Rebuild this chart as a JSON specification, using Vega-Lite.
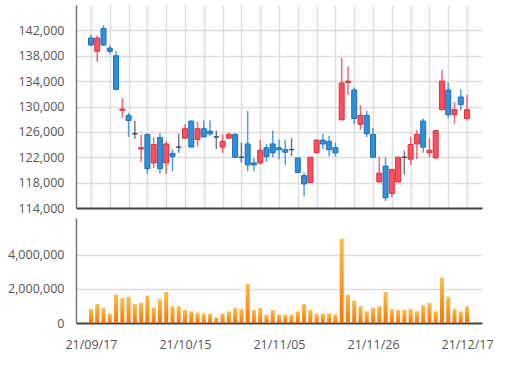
{
  "$schema": "https://vega.github.io/schema/vega-lite/v6.json",
  "background": "white",
  "padding": 5,
  "spacing": 10,
  "bounds": "flush",
  "config": {
    "view": {"stroke": null},
    "font": "Open Sans",
    "axis": {
      "labelFont": "Open Sans",
      "labelFontSize": 12.5,
      "labelColor": "#555555",
      "gridColor": "#dedede",
      "gridWidth": 1.5,
      "domainColor": "#777777",
      "domainWidth": 1.5,
      "ticks": false,
      "title": null,
      "labelOverlap": false
    }
  },
  "datasets": {
    "d": [
      {"date": "21/09/17", "open": 140800, "high": 141300, "low": 139500, "close": 139700, "volume": 820000},
      {"date": "21/09/23", "open": 138700, "high": 141200, "low": 137000, "close": 140800, "volume": 1110000},
      {"date": "21/09/24", "open": 142300, "high": 142800, "low": 139500, "close": 139700, "volume": 880000},
      {"date": "21/09/27", "open": 139200, "high": 139700, "low": 138300, "close": 138700, "volume": 550000},
      {"date": "21/09/28", "open": 138000, "high": 138700, "low": 132700, "close": 132700, "volume": 1660000},
      {"date": "21/09/29", "open": 129400, "high": 131300, "low": 128200, "close": 129600, "volume": 1460000},
      {"date": "21/09/30", "open": 128600, "high": 129000, "low": 125200, "close": 127800, "volume": 1540000},
      {"date": "21/10/01", "open": 125700, "high": 127700, "low": 124900, "close": 125700, "volume": 1110000},
      {"date": "21/10/05", "open": 123300, "high": 125600, "low": 121300, "close": 123500, "volume": 1190000},
      {"date": "21/10/06", "open": 125600, "high": 125800, "low": 119400, "close": 120200, "volume": 1600000},
      {"date": "21/10/07", "open": 121100, "high": 125100, "low": 120300, "close": 124000, "volume": 900000},
      {"date": "21/10/08", "open": 125100, "high": 125800, "low": 119400, "close": 120200, "volume": 1390000},
      {"date": "21/10/12", "open": 121100, "high": 124500, "low": 119400, "close": 124100, "volume": 1820000},
      {"date": "21/10/13", "open": 122600, "high": 123200, "low": 119800, "close": 122100, "volume": 980000},
      {"date": "21/10/14", "open": 123600, "high": 125700, "low": 122700, "close": 123600, "volume": 980000},
      {"date": "21/10/15", "open": 125000, "high": 127200, "low": 125000, "close": 126500, "volume": 760000},
      {"date": "21/10/18", "open": 127700, "high": 127800, "low": 123600, "close": 123600, "volume": 680000},
      {"date": "21/10/19", "open": 124800, "high": 127600, "low": 123700, "close": 126500, "volume": 610000},
      {"date": "21/10/20", "open": 126500, "high": 127800, "low": 125200, "close": 125200, "volume": 550000},
      {"date": "21/10/21", "open": 126100, "high": 127800, "low": 125400, "close": 125700, "volume": 550000},
      {"date": "21/10/22", "open": 125200, "high": 126200, "low": 123300, "close": 125200, "volume": 330000},
      {"date": "21/10/25", "open": 123600, "high": 125600, "low": 122700, "close": 124500, "volume": 550000},
      {"date": "21/10/26", "open": 125000, "high": 125900, "low": 124900, "close": 125600, "volume": 680000},
      {"date": "21/10/27", "open": 125600, "high": 125800, "low": 121900, "close": 122000, "volume": 880000},
      {"date": "21/10/28", "open": 122000, "high": 124300, "low": 121200, "close": 122000, "volume": 820000},
      {"date": "21/10/29", "open": 124100, "high": 129300, "low": 119800, "close": 120800, "volume": 2300000},
      {"date": "21/11/01", "open": 121100, "high": 121900, "low": 119800, "close": 120800, "volume": 760000},
      {"date": "21/11/02", "open": 121100, "high": 124700, "low": 120800, "close": 123100, "volume": 880000},
      {"date": "21/11/03", "open": 123500, "high": 124100, "low": 121300, "close": 122100, "volume": 490000},
      {"date": "21/11/04", "open": 124100, "high": 126200, "low": 122000, "close": 122700, "volume": 760000},
      {"date": "21/11/05", "open": 123500, "high": 124800, "low": 121700, "close": 123200, "volume": 490000},
      {"date": "21/11/08", "open": 123200, "high": 124700, "low": 120800, "close": 122800, "volume": 490000},
      {"date": "21/11/09", "open": 123200, "high": 125000, "low": 122200, "close": 123200, "volume": 490000},
      {"date": "21/11/10", "open": 121900, "high": 121900, "low": 119600, "close": 119600, "volume": 680000},
      {"date": "21/11/11", "open": 119100, "high": 119600, "low": 115800, "close": 117800, "volume": 1110000},
      {"date": "21/11/12", "open": 118000, "high": 122000, "low": 118000, "close": 122000, "volume": 760000},
      {"date": "21/11/15", "open": 122700, "high": 124800, "low": 122700, "close": 124700, "volume": 550000},
      {"date": "21/11/16", "open": 124700, "high": 125700, "low": 123300, "close": 124100, "volume": 550000},
      {"date": "21/11/17", "open": 124500, "high": 125400, "low": 122100, "close": 123200, "volume": 550000},
      {"date": "21/11/18", "open": 123500, "high": 124300, "low": 122100, "close": 122700, "volume": 490000},
      {"date": "21/11/19", "open": 127900, "high": 137700, "low": 127800, "close": 133700, "volume": 4940000},
      {"date": "21/11/22", "open": 133800, "high": 136300, "low": 131800, "close": 134000, "volume": 1660000},
      {"date": "21/11/23", "open": 132600, "high": 133000, "low": 127200, "close": 128100, "volume": 1310000},
      {"date": "21/11/24", "open": 127200, "high": 130200, "low": 126300, "close": 128600, "volume": 980000},
      {"date": "21/11/25", "open": 128600, "high": 129300, "low": 125200, "close": 125700, "volume": 680000},
      {"date": "21/11/26", "open": 125600, "high": 126600, "low": 121900, "close": 122000, "volume": 900000},
      {"date": "21/11/29", "open": 118100, "high": 122100, "low": 118100, "close": 119500, "volume": 980000},
      {"date": "21/11/30", "open": 120600, "high": 122000, "low": 115100, "close": 115600, "volume": 1820000},
      {"date": "21/12/01", "open": 116300, "high": 120100, "low": 115700, "close": 120100, "volume": 820000},
      {"date": "21/12/02", "open": 118100, "high": 122100, "low": 118100, "close": 122000, "volume": 760000},
      {"date": "21/12/03", "open": 122000, "high": 123000, "low": 119300, "close": 122000, "volume": 760000},
      {"date": "21/12/06", "open": 121700, "high": 125200, "low": 120800, "close": 124000, "volume": 820000},
      {"date": "21/12/07", "open": 124100, "high": 126300, "low": 121700, "close": 125600, "volume": 680000},
      {"date": "21/12/08", "open": 127700, "high": 128100, "low": 122700, "close": 123600, "volume": 1040000},
      {"date": "21/12/09", "open": 122700, "high": 125000, "low": 122000, "close": 123100, "volume": 1170000},
      {"date": "21/12/10", "open": 121900, "high": 126200, "low": 121700, "close": 126200, "volume": 680000},
      {"date": "21/12/13", "open": 129500, "high": 135700, "low": 129500, "close": 134000, "volume": 2660000},
      {"date": "21/12/14", "open": 132600, "high": 133800, "low": 128200, "close": 128700, "volume": 1540000},
      {"date": "21/12/15", "open": 128700, "high": 130700, "low": 127300, "close": 129500, "volume": 820000},
      {"date": "21/12/16", "open": 131500, "high": 132700, "low": 129400, "close": 130300, "volume": 680000},
      {"date": "21/12/17", "open": 128100, "high": 131800, "low": 127800, "close": 129500, "volume": 980000}
    ]
  },
  "vconcat": [
    {
      "width": 406,
      "height": 203,
      "data": {"name": "d"},
      "encoding": {
        "x": {
          "field": "date",
          "type": "ordinal",
          "sort": null,
          "scale": {
            "type": "point",
            "padding": 0.39,
            "domain": ["pad1", "pad2", "21/09/17", "21/09/23", "21/09/24", "21/09/27", "21/09/28", "21/09/29", "21/09/30", "21/10/01", "21/10/05", "21/10/06", "21/10/07", "21/10/08", "21/10/12", "21/10/13", "21/10/14", "21/10/15", "21/10/18", "21/10/19", "21/10/20", "21/10/21", "21/10/22", "21/10/25", "21/10/26", "21/10/27", "21/10/28", "21/10/29", "21/11/01", "21/11/02", "21/11/03", "21/11/04", "21/11/05", "21/11/08", "21/11/09", "21/11/10", "21/11/11", "21/11/12", "21/11/15", "21/11/16", "21/11/17", "21/11/18", "21/11/19", "21/11/22", "21/11/23", "21/11/24", "21/11/25", "21/11/26", "21/11/29", "21/11/30", "21/12/01", "21/12/02", "21/12/03", "21/12/06", "21/12/07", "21/12/08", "21/12/09", "21/12/10", "21/12/13", "21/12/14", "21/12/15", "21/12/16", "21/12/17", "pad3", "pad4"]
          },
          "axis": {
            "values": ["21/09/17", "21/09/27", "21/09/30", "21/10/06", "21/10/12", "21/10/15", "21/10/20", "21/10/25", "21/10/28", "21/11/02", "21/11/05", "21/11/10", "21/11/15", "21/11/18", "21/11/23", "21/11/26", "21/12/01", "21/12/06", "21/12/09", "21/12/14", "21/12/17"],
            "labels": false,
            "grid": true,
            "domain": false
          }
        }
      },
      "layer": [
        {
          "mark": {"type": "rule", "strokeWidth": 1.5, "opacity": 0.8},
          "encoding": {
            "y": {
              "field": "low",
              "type": "quantitative",
              "scale": {"domain": [114000, 146000], "zero": false, "nice": false},
              "axis": {
                "values": [114000, 118000, 122000, 126000, 130000, 134000, 138000, 142000],
                "format": ",.0f",
                "grid": true,
                "gridColor": {"condition": {"test": "datum.value == 114000", "value": "#444444"}, "value": "#dedede"},
                "gridWidth": {"condition": {"test": "datum.value == 114000", "value": 2}, "value": 1.5},
                "labelPadding": 12,
                "minExtent": 71,
                "maxExtent": 71
              }
            },
            "y2": {"field": "high"},
            "color": {
              "condition": [
                {"test": "datum.close > datum.open", "value": "#f0404f"},
                {"test": "datum.close < datum.open", "value": "#2a86d3"}
              ],
              "value": "#4a5566"
            }
          }
        },
        {
          "mark": {"type": "bar", "size": 5, "strokeWidth": 1},
          "encoding": {
            "y": {
              "field": "open",
              "type": "quantitative",
              "axis": {
                "values": [114000, 118000, 122000, 126000, 130000, 134000, 138000, 142000],
                "format": ",.0f",
                "grid": true,
                "gridColor": {"condition": {"test": "datum.value == 114000", "value": "#444444"}, "value": "#dedede"},
                "gridWidth": {"condition": {"test": "datum.value == 114000", "value": 2}, "value": 1.5},
                "labelPadding": 12,
                "minExtent": 71,
                "maxExtent": 71
              }
            },
            "y2": {"field": "close"},
            "color": {
              "condition": [
                {"test": "datum.close > datum.open", "value": "#f8505e"},
                {"test": "datum.close < datum.open", "value": "#2e90dc"}
              ],
              "value": "#4a5566"
            },
            "stroke": {
              "condition": [
                {"test": "datum.close > datum.open", "value": "#e03242"},
                {"test": "datum.close < datum.open", "value": "#1f6fb8"}
              ],
              "value": "#3d4757"
            }
          }
        }
      ]
    },
    {
      "width": 406,
      "height": 105,
      "data": {"name": "d"},
      "mark": {
        "type": "bar",
        "size": 4,
        "color": {
          "gradient": "linear",
          "x1": 0, "y1": 0, "x2": 0, "y2": 1,
          "stops": [
            {"offset": 0, "color": "#ffbd4a"},
            {"offset": 1, "color": "#ff7400"}
          ]
        }
      },
      "encoding": {
        "x": {
          "field": "date",
          "type": "ordinal",
          "sort": null,
          "scale": {
            "type": "point",
            "padding": 0.39,
            "domain": ["pad1", "pad2", "21/09/17", "21/09/23", "21/09/24", "21/09/27", "21/09/28", "21/09/29", "21/09/30", "21/10/01", "21/10/05", "21/10/06", "21/10/07", "21/10/08", "21/10/12", "21/10/13", "21/10/14", "21/10/15", "21/10/18", "21/10/19", "21/10/20", "21/10/21", "21/10/22", "21/10/25", "21/10/26", "21/10/27", "21/10/28", "21/10/29", "21/11/01", "21/11/02", "21/11/03", "21/11/04", "21/11/05", "21/11/08", "21/11/09", "21/11/10", "21/11/11", "21/11/12", "21/11/15", "21/11/16", "21/11/17", "21/11/18", "21/11/19", "21/11/22", "21/11/23", "21/11/24", "21/11/25", "21/11/26", "21/11/29", "21/11/30", "21/12/01", "21/12/02", "21/12/03", "21/12/06", "21/12/07", "21/12/08", "21/12/09", "21/12/10", "21/12/13", "21/12/14", "21/12/15", "21/12/16", "21/12/17", "pad3", "pad4"]
          },
          "axis": {
            "values": ["21/09/17", "21/10/15", "21/11/05", "21/11/26", "21/12/17"],
            "labelAngle": 0,
            "labelPadding": 15,
            "grid": false,
            "domain": false
          }
        },
        "y": {
          "field": "volume",
          "type": "quantitative",
          "scale": {"domain": [0, 6150000], "nice": false},
          "axis": {
            "values": [0, 2000000, 4000000],
            "format": ",.0f",
            "grid": true,
            "gridColor": {"condition": {"test": "datum.value == 0", "value": "#444444"}, "value": "#dedede"},
            "gridWidth": {"condition": {"test": "datum.value == 0", "value": 2}, "value": 1.5},
            "labelPadding": 12,
            "minExtent": 71,
            "maxExtent": 71
          }
        }
      }
    }
  ]
}
